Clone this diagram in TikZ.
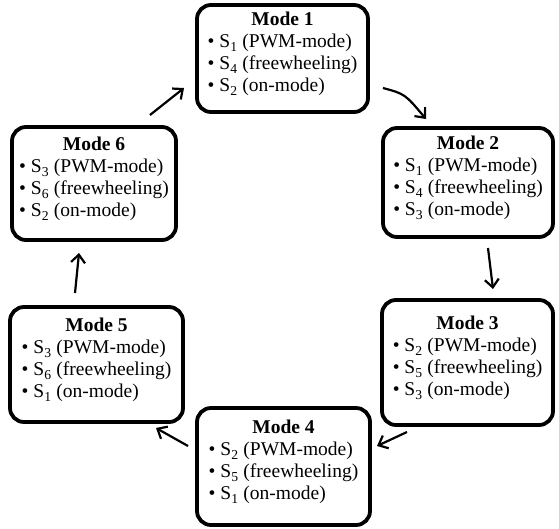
\documentclass[tikz,border=0pt]{standalone}
\usepackage{fontspec}
\setmainfont{Liberation Serif}
\usetikzlibrary{arrows.meta}
\tikzset{
  modebox/.style={draw, line width=3.8pt, rounded corners=14pt, fill=white, inner sep=0pt, font=\fontsize{19.5}{22}\selectfont},
  flow/.style={line width=2.2pt, -{Straight Barb[length=8pt,width=14pt,line width=2.2pt]}}
}
\newcommand{\modetext}[4]{\raisebox{4pt}[\height][\depth]{\begin{tabular}{@{}l@{}}\multicolumn{1}{c}{\textbf{Mode #1}}\\ \textbullet\ S\textsubscript{#2} (PWM-mode)\\ \textbullet\ S\textsubscript{#3} (freewheeling)\\ \textbullet\ S\textsubscript{#4} (on-mode)\end{tabular}}}
\begin{document}
\begin{tikzpicture}[x=1pt,y=-1pt]
\useasboundingbox (0,0) rectangle (559,528);
\node[modebox, minimum width=171pt, minimum height=107pt] (m1) at (282.5,58.5) {\modetext{1}{1}{4}{2}};
\node[modebox, minimum width=170pt, minimum height=109pt] (m2) at (468,182.5) {\modetext{2}{1}{4}{3}};
\node[modebox, minimum width=171pt, minimum height=125pt] (m3) at (467.5,362.5) {\modetext{3}{2}{5}{3}};
\node[modebox, minimum width=173pt, minimum height=117pt] (m4) at (283.5,466.5) {\modetext{4}{2}{5}{1}};
\node[modebox, minimum width=173pt, minimum height=115pt] (m5) at (96.5,364.5) {\modetext{5}{3}{6}{1}};
\node[modebox, minimum width=164pt, minimum height=113pt] (m6) at (94,183.5) {\modetext{6}{3}{6}{2}};
\coordinate (a61) at (150,115); \coordinate (b61) at (184,88);
\coordinate (a12) at (383,88);  \coordinate (b12) at (426,119);
\coordinate (a23) at (488,248); \coordinate (b23) at (493,289);
\coordinate (a34) at (407,432); \coordinate (b34) at (377,446);
\coordinate (a45) at (188,446); \coordinate (b45) at (156,428);
\coordinate (a56) at (75,293);  \coordinate (b56) at (79,253);
\draw[flow] (a61) -- (b61);
\draw[flow] (a12) .. controls (405,94) .. (b12);
\draw[flow] (a23) -- (b23);
\draw[flow] (a34) -- (b34);
\draw[flow] (a45) -- (b45);
\draw[flow] (a56) -- (b56);
\end{tikzpicture}
\end{document}
